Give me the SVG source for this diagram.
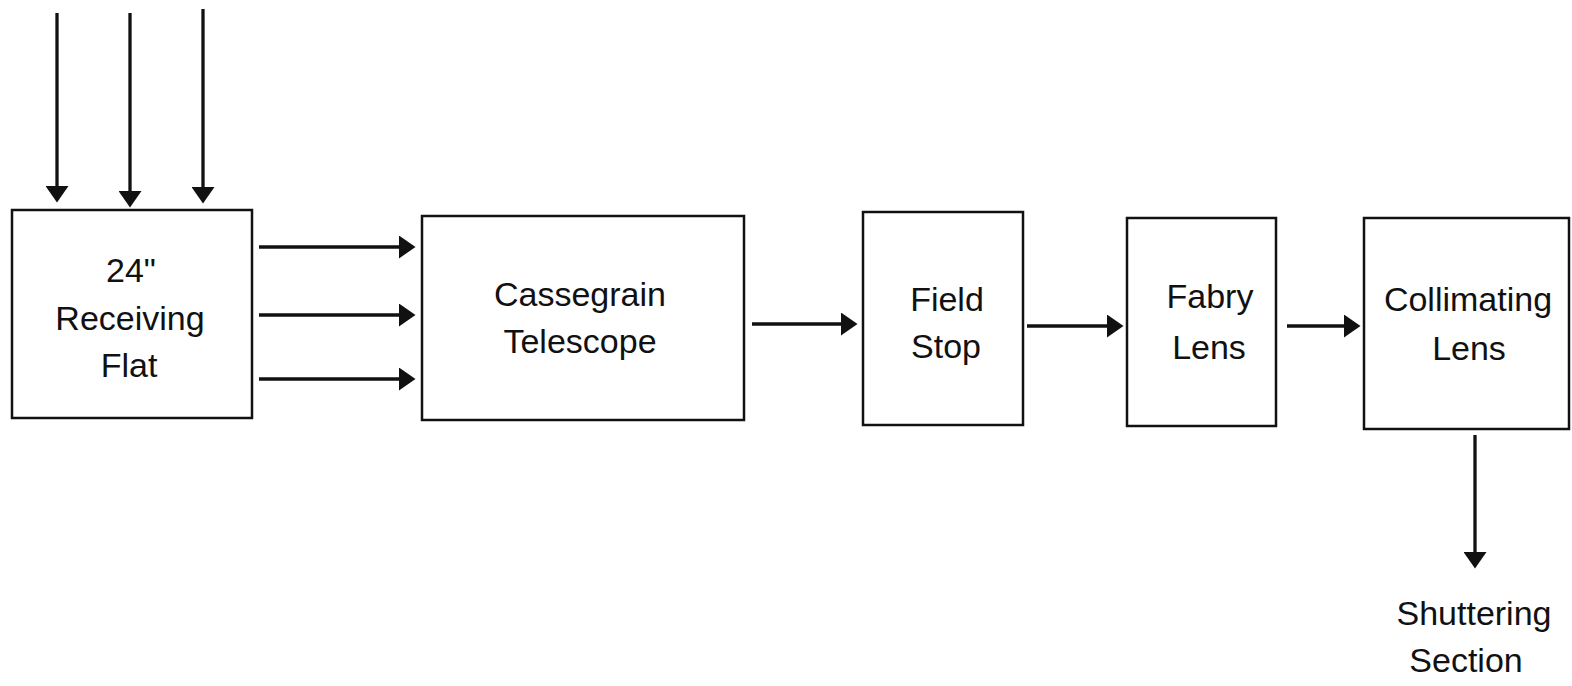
<svg xmlns="http://www.w3.org/2000/svg" width="1572" height="686" viewBox="0 0 1572 686">
  <style>
    .box { fill: #ffffff; stroke: #111111; stroke-width: 2.5; }
    .label { font-family: "Liberation Sans", Arial, sans-serif; font-size: 34px; fill: #111111; text-anchor: middle; }
    .flow { fill: none; stroke: #111111; stroke-width: 3.3; marker-end: url(#head); }
  </style>
  <defs>
    <!-- solid triangular arrowhead; line ends 10px short of the tip -->
    <marker id="head" markerUnits="userSpaceOnUse" markerWidth="17" markerHeight="23" viewBox="0 0 17 23" refX="6" refY="11.5" orient="auto">
      <path d="M0,0 L16.5,11.5 L0,23 Z" fill="#111111"/>
    </marker>
  </defs>
  <rect width="1572" height="686" fill="#ffffff"/>

  <g id="connectors">
    <!-- incoming light onto the receiving flat -->
    <path class="flow" d="M57,13 V192"/>
    <path class="flow" d="M130,13 V197"/>
    <path class="flow" d="M203,9 V193"/>
    <!-- flat to telescope -->
    <path class="flow" d="M259,247 H405"/>
    <path class="flow" d="M259,315 H405"/>
    <path class="flow" d="M259,379 H405"/>
    <!-- main optical chain -->
    <path class="flow" d="M752,324 H847"/>
    <path class="flow" d="M1027,326 H1113"/>
    <path class="flow" d="M1287,326 H1350"/>
    <!-- to shuttering section -->
    <path class="flow" d="M1475,435 V558"/>
  </g>

  <g id="receiving-flat">
    <rect class="box" x="12" y="210" width="240" height="208"/>
    <text class="label" x="131" y="282">24"</text>
    <text class="label" x="130" y="330">Receiving</text>
    <text class="label" x="129" y="377">Flat</text>
  </g>

  <g id="cassegrain-telescope">
    <rect class="box" x="422" y="216" width="322" height="204"/>
    <text class="label" x="580" y="306">Cassegrain</text>
    <text class="label" x="580" y="353">Telescope</text>
  </g>

  <g id="field-stop">
    <rect class="box" x="863" y="212" width="160" height="213"/>
    <text class="label" x="947" y="311">Field</text>
    <text class="label" x="946" y="358">Stop</text>
  </g>

  <g id="fabry-lens">
    <rect class="box" x="1127" y="218" width="149" height="208"/>
    <text class="label" x="1210" y="308">Fabry</text>
    <text class="label" x="1209" y="359">Lens</text>
  </g>

  <g id="collimating-lens">
    <rect class="box" x="1364" y="218" width="205" height="211"/>
    <text class="label" x="1468" y="311">Collimating</text>
    <text class="label" x="1469" y="360">Lens</text>
  </g>

  <g id="shuttering-section">
    <text class="label" x="1474" y="625">Shuttering</text>
    <text class="label" x="1466" y="672">Section</text>
  </g>
</svg>
